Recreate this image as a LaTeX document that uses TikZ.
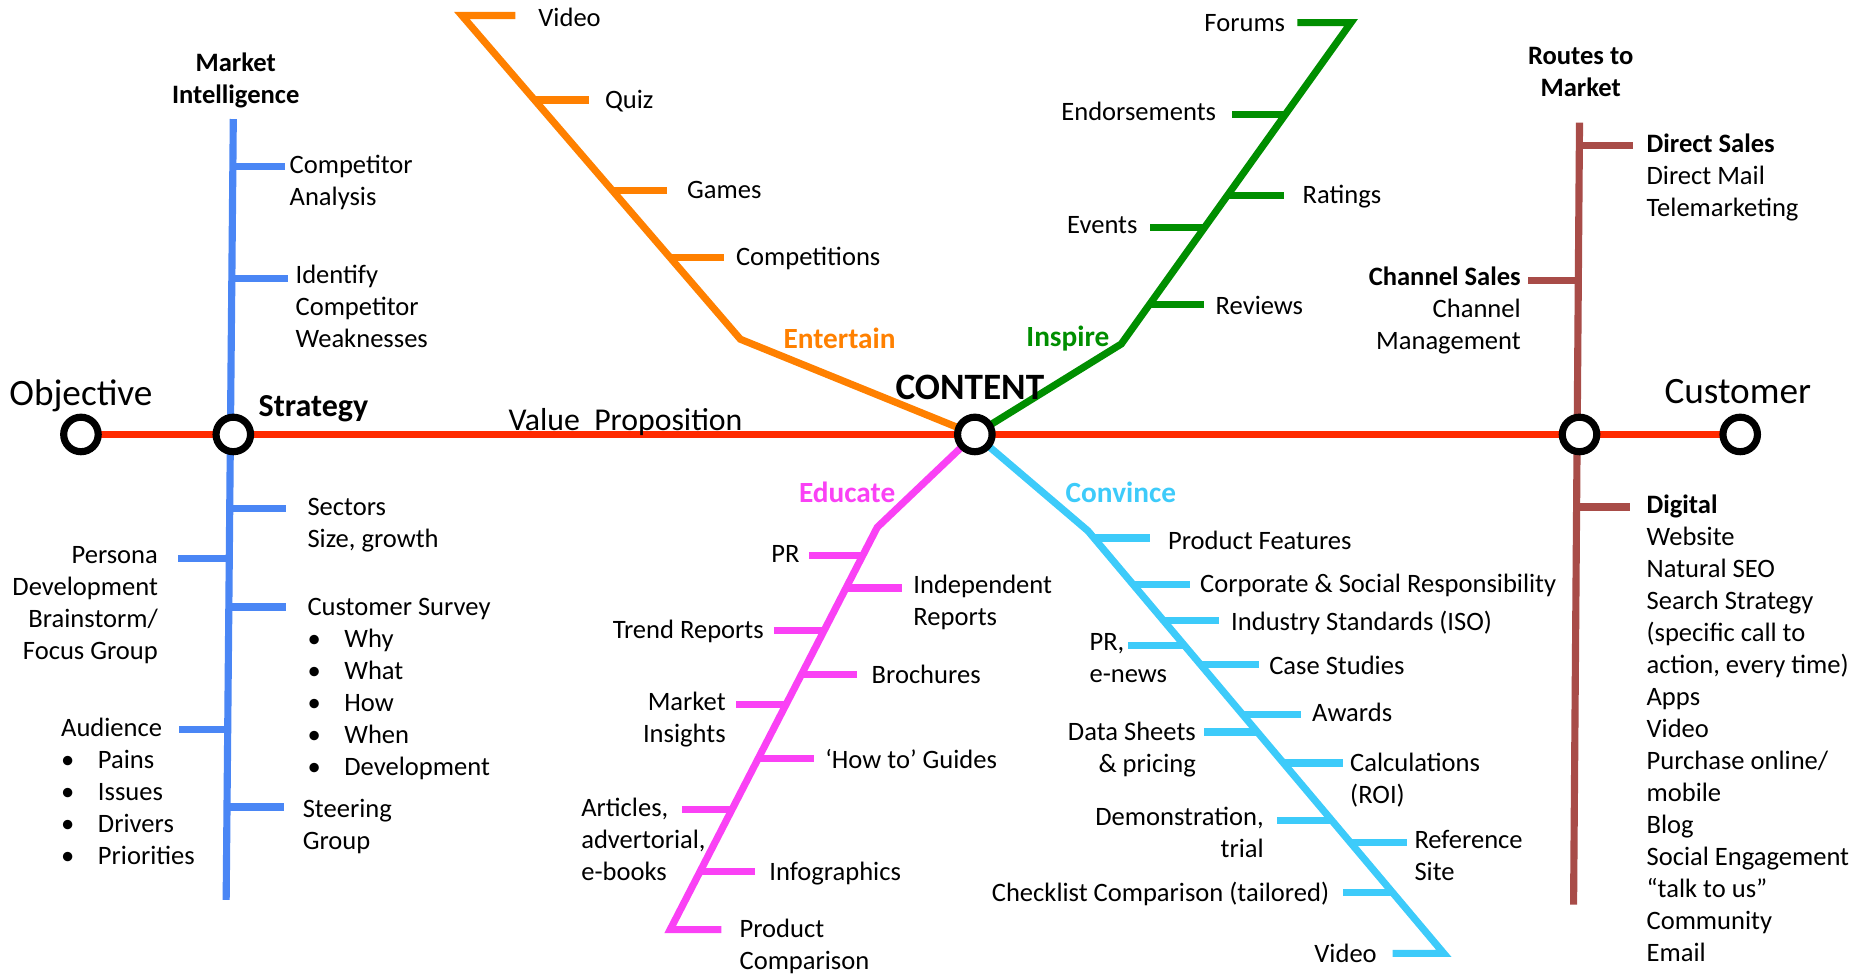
\documentclass[tikz,border=0pt]{standalone}
\usepackage{fontspec}
\setmainfont{Carlito}
\usepackage{tikz}
\usetikzlibrary{calc}
\def \px {0.02cm}
\definecolor{mred}{HTML}{FF2A00}
\definecolor{mblue}{HTML}{4A86F5}
\definecolor{morange}{HTML}{FF8000}
\definecolor{mgreen}{HTML}{008E00}
\definecolor{mmagenta}{HTML}{FA41F5}
\definecolor{mcyan}{HTML}{3DCBFA}
\definecolor{mbrown}{HTML}{A84C48}
\newcommand\bitem[1]{\makebox[0.62cm][l]{\textbullet}#1}

\begin{document}
\begin{tikzpicture}[x=\px,y=-\px,
    txt/.style={font=\fontsize{12.7}{15.3}\selectfont,inner sep=0pt,align=left,yshift=-0.06cm,
      execute at begin node=\strut,execute at end node=\strut},
    ltxt/.style={txt,anchor=west},
    rtxt/.style={txt,align=right,anchor=east},
    head/.style={txt,font=\fontsize{12.7}{15.3}\selectfont\bfseries,align=center},
    big/.style={txt,font=\fontsize{17.8}{21}\selectfont},
    branch/.style={txt,anchor=west,font=\fontsize{14}{17}\selectfont\bfseries},
    track/.style={line width=0.12cm},
    station/.style={circle,draw,line width=0.12cm,fill=white,minimum size=0.58cm,inner sep=0pt}]
  \useasboundingbox (0,0) rectangle (1566,820);

  \coordinate (obj) at (68,365);
  \coordinate (str) at (196,365);
  \coordinate (con) at (819,365);
  \coordinate (rtm) at (1327,365);
  \coordinate (cus) at (1462,365);

  \coordinate (miT) at (196,100);  \coordinate (miB) at (190,756);
  \coordinate (rmT) at (1327,103); \coordinate (rmB) at (1322,760);
  \coordinate (enK) at (622,285);  \coordinate (enT) at (388,13);  \coordinate (enV) at (433,13);
  \coordinate (inK) at (942,289);  \coordinate (inT) at (1135,19); \coordinate (inF) at (1090,19);
  \coordinate (edK) at (737,443);  \coordinate (edB) at (563,781); \coordinate (edP) at (606,781);
  \coordinate (coK) at (914,446);  \coordinate (coB) at (1213,801); \coordinate (coV) at (1170,801);

  \draw[track,mblue] (miT) -- (miB);
  \draw[track,mbrown] (rmT) -- (rmB);
  \draw[track,morange] (con) -- (enK) -- (enT) -- (enV);
  \draw[track,mgreen] (con) -- (inK) -- (inT) -- (inF);
  \draw[track,mmagenta] (con) -- (edK) -- (edB) -- (edP);
  \draw[track,mcyan] (con) -- (coK) -- (coB) -- (coV);
  \draw[track,mred,line width=0.13cm] (obj) -- (cus);

  \foreach \y/\l in {140/44,234/47,427/47,510/48,678/48,469/-43,613/-41}{
    \pgfmathsetmacro\tpos{(\y-100)/656}
    \draw[track,mblue] ($(miT)!\tpos!(miB)$) -- ++(\l,0);}
  \foreach \y/\l in {122/45,236/-42,426/45}{
    \pgfmathsetmacro\tpos{(\y-103)/657}
    \draw[track,mbrown] ($(rmT)!\tpos!(rmB)$) -- ++(\l,0);}
  \foreach \y in {84,160,216}{
    \pgfmathsetmacro\tpos{(\y-13)/272}
    \draw[track,morange] ($(enT)!\tpos!(enK)$) -- ++(46,0);}
  \foreach \y/\l in {96/-45,164/47,191/-46,256/46}{
    \pgfmathsetmacro\tpos{(289-\y)/270}
    \draw[track,mgreen] ($(inK)!\tpos!(inT)$) -- ++(\l,0);}
  \foreach \y/\l in {467/-45,494/47,530/-42,567/47,592/-42,637/47,680/-42,732/46}{
    \pgfmathsetmacro\tpos{(\y-443)/338}
    \draw[track,mmagenta] ($(edK)!\tpos!(edB)$) -- ++(\l,0);}
  \foreach \y/\l in {452/47,491/48,521/47,542/-47,558/49,600/49,615/-45,641/50,689/-46,708/47,750/-42}{
    \pgfmathsetmacro\tpos{(\y-446)/355}
    \draw[track,mcyan] ($(coK)!\tpos!(coB)$) -- ++(\l,0);}

  \foreach \s in {obj,str,con,rtm,cus}
    \node[station] (\s-st) at (\s) {};

  % main line
  \node[big] (objective) at (68,330) {Objective};
  \node[big] (customer) at (1460,329) {Customer};
  \node[big,anchor=west,font=\fontsize{17.8}{21}\selectfont\bfseries] (content) at (752,325) {CONTENT};
  \node[ltxt,font=\fontsize{15.3}{18}\selectfont\bfseries] (strategy) at (217,341) {Strategy};
  \node[ltxt,font=\fontsize{15.2}{18}\selectfont] (valprop) at (427,352) {Value~~Proposition};

  % market intelligence
  \node[head] (mi) at (198,66.5) {Market\\Intelligence};
  \node[ltxt] (mi-comp) at (243,152.5) {Competitor\\Analysis};
  \node[ltxt] (mi-weak) at (248,258) {Identify\\Competitor\\Weaknesses};
  \node[ltxt] (mi-sect) at (258,440.5) {Sectors\\Size, growth};
  \node[rtxt] (mi-pers) at (133,507.5) {Persona\\Development\\Brainstorm/\\Focus Group};
  \node[ltxt] (mi-surv) at (258,578.5) {Customer Survey\\\bitem{Why}\\\bitem{What}\\\bitem{How}\\\bitem{When}\\\bitem{Development}};
  \node[ltxt] (mi-aud) at (51,666) {Audience\\\bitem{Pains}\\\bitem{Issues}\\\bitem{Drivers}\\\bitem{Priorities}};
  \node[ltxt] (mi-steer) at (254,693.5) {Steering\\Group};

  % entertain
  \node[branch,morange] (entertain) at (658,284) {Entertain};
  \node[ltxt] (en-video) at (452,14) {Video};
  \node[ltxt] (en-quiz) at (508,83) {Quiz};
  \node[ltxt] (en-games) at (577,158) {Games};
  \node[ltxt] (en-comp) at (618,215) {Competitions};

  % inspire
  \node[branch,mgreen] (inspire) at (862,282) {Inspire};
  \node[rtxt] (in-forums) at (1080,18) {Forums};
  \node[rtxt] (in-endo) at (1022,93) {Endorsements};
  \node[ltxt] (in-rate) at (1094,163) {Ratings};
  \node[rtxt] (in-events) at (956,188) {Events};
  \node[ltxt] (in-rev) at (1021,256) {Reviews};

  % educate
  \node[branch,mmagenta] (educate) at (671,413) {Educate};
  \node[rtxt] (ed-pr) at (672,464) {PR};
  \node[ltxt] (ed-indep) at (767,505.5) {Independent\\Reports};
  \node[rtxt] (ed-trend) at (642,528) {Trend Reports};
  \node[ltxt] (ed-broch) at (732,566) {Brochures};
  \node[rtxt] (ed-market) at (610,603.5) {Market\\Insights};
  \node[ltxt] (ed-howto) at (693,637) {‘How to’ Guides};
  \node[ltxt] (ed-art) at (488,706) {Articles,\\advertorial,\\e-books};
  \node[ltxt] (ed-info) at (646,731) {Infographics};
  \node[ltxt] (ed-prod) at (621,794.5) {Product\\Comparison};

  % convince
  \node[branch,mcyan] (convince) at (895,413) {Convince};
  \node[ltxt] (co-feat) at (981,453) {Product Features};
  \node[ltxt] (co-csr) at (1008,489) {Corporate \& Social Responsibility};
  \node[ltxt] (co-iso) at (1034,521) {Industry Standards (ISO)};
  \node[ltxt] (co-pr) at (915,553.5) {PR,\\e-news};
  \node[ltxt] (co-case) at (1066,558) {Case Studies};
  \node[ltxt] (co-awards) at (1102,598) {Awards};
  \node[rtxt] (co-data) at (1005,628.5) {Data Sheets\\\& pricing};
  \node[ltxt] (co-calc) at (1134,654.5) {Calculations\\(ROI)};
  \node[rtxt] (co-demo) at (1062,700.5) {Demonstration,\\trial};
  \node[ltxt] (co-ref) at (1188,719.5) {Reference\\Site};
  \node[rtxt] (co-check) at (1117,749) {Checklist Comparison (tailored)};
  \node[rtxt] (co-video) at (1157,800) {Video};

  % routes to market
  \node[head] (rm) at (1328,61.5) {Routes to\\Market};
  \node[ltxt] (rm-direct) at (1383,148) {\textbf{Direct Sales}\\Direct Mail\\Telemarketing};
  \node[rtxt] (rm-chan) at (1278,260) {\textbf{Channel Sales}\\Channel\\Management};
  \node[ltxt] (rm-dig) at (1383,612.5) {\textbf{Digital}\\Website\\Natural SEO\\Search Strategy\\(specific call to\\action, every time)\\Apps\\Video\\Purchase online/\\mobile\\Blog\\Social Engagement\\“talk to us”\\Community\\Email};
\end{tikzpicture}
\end{document}
